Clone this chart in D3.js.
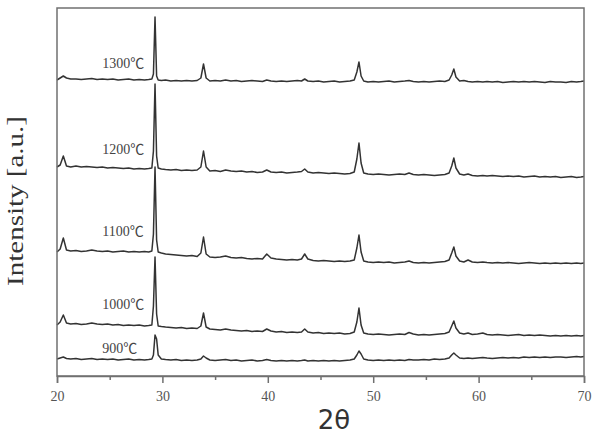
<!DOCTYPE html>
<html><head><meta charset="utf-8">
<script src="https://cdn.jsdelivr.net/npm/d3@7"></script>
<style>body{margin:0;background:#fff}svg{display:block}</style>
</head><body>
<script>
const twoTheta = [
 20, 20.3, 20.6, 20.9, 21.3, 21.8, 22.3, 22.8, 23.3, 23.8,
 24.3, 24.8, 25.3, 25.8, 26.3, 26.8, 27.3, 27.8, 28.3, 28.7,
 29.0, 29.15, 29.3, 29.45, 29.6, 29.9, 30.3, 30.8, 31.3, 31.8,
 32.3, 32.8, 33.3, 33.65, 33.9, 34.15, 34.5, 35.0, 35.5, 36.0,
 36.5, 37.0, 37.5, 38.0, 38.5, 39.0, 39.5, 39.9, 40.3, 40.8,
 41.3, 41.8, 42.3, 42.8, 43.2, 43.5, 43.8, 44.3, 44.8, 45.3,
 45.8, 46.3, 46.8, 47.3, 47.8, 48.2, 48.45, 48.65, 48.85, 49.1,
 49.5, 50.0, 50.5, 51.0, 51.5, 52.0, 52.5, 53.0, 53.4, 53.8,
 54.3, 54.8, 55.3, 55.8, 56.3, 56.8, 57.2, 57.45, 57.65, 57.85,
 58.2, 58.6, 59.0, 59.4, 59.9, 60.4, 60.8, 61.3, 61.8, 62.3,
 62.8, 63.3, 63.8, 64.3, 64.8, 65.3, 65.8, 66.3, 66.8, 67.3,
 67.8, 68.3, 68.8, 69.3, 69.7, 70.0
];
const i900 = [
 2, 3, 4, 2.5, 2, 2.5, 1.5, 2, 2.5, 1.5,
 2, 1.5, 2, 1, 1.5, 2, 1, 1.5, 1, 1.5,
 2, 6, 26, 22, 6, 2, 1.5, 1, 1.5, 0.5,
 1, 0.5, 1, 2, 5, 3, 1, 0.5, 1, 1.5,
 0.5, 1, 0, 0.5, 1, 0, 0.5, 1.5, 0.5, 0,
 0.5, 0, 0.5, 0, 0.5, 1, 0, 0.5, 0, 0.5,
 0, 0.5, 0, 0.5, 1, 2, 6, 10, 7, 2,
 1, 0.5, 1, 0.5, 1, 0.5, 1, 0.5, 1.5, 1,
 1, 1.5, 1, 2, 1.5, 2, 3, 6, 8, 6,
 3, 2.5, 3, 2.5, 3, 3.5, 3, 2.5, 3, 3.5,
 3, 3.5, 3, 4, 3.5, 4, 3.5, 4, 3.5, 4,
 4, 3.5, 4, 4.5, 4, 4.5
];
const i1000 = [
 11, 14, 21, 13, 12, 12.5, 11.5, 12, 13, 12,
 11.5, 12, 11, 11.5, 10.5, 11, 10.5, 11, 10, 10.5,
 11, 30, 79, 22, 10, 9.5, 9, 8.5, 8, 8.5,
 7.5, 8, 7.5, 10, 23, 9, 7, 6.5, 6, 7,
 6, 5.5, 5, 5.5, 4.5, 5, 4.5, 7, 5, 4,
 4.5, 3.5, 4, 3.5, 4, 7, 4, 3, 3.5, 2.5,
 3, 2.5, 3, 2, 2.5, 4, 14, 28, 11, 3,
 2, 1.5, 2, 1.5, 1, 1.5, 2, 1.5, 3.5, 2,
 1, 1.5, 1, 1.5, 2, 2.5, 4, 10, 15, 8,
 3, 2, 3, 1.5, 2, 3, 1.5, 1, 1.5, 1,
 0.5, 1, 1.5, 0.5, 1, 0.5, 1, 0.5, 0, 0.5,
 0, 0.5, 0, 0.5, 0, 0.5
];
const i1100 = [
 14, 17, 28, 16, 15, 15.5, 14.5, 15, 16, 15,
 14.5, 15, 14, 14.5, 15, 14, 14.5, 14, 14.5, 14,
 15, 32, 99, 26, 14, 13, 12, 11.5, 11, 10.5,
 10, 10.5, 9.5, 13, 29, 12, 9, 8.5, 9, 10,
 8.5, 8, 8.5, 7.5, 7, 7.5, 7, 12, 8, 7,
 6.5, 6, 6.5, 6, 7, 12, 7, 5.5, 5, 5.5,
 5, 4.5, 5, 4.5, 5, 6, 18, 31, 14, 5,
 4, 3.5, 4, 3.5, 4, 3, 3.5, 4, 5, 3.5,
 3, 3.5, 3, 3.5, 4, 4.5, 6, 13, 19, 10,
 5, 4, 6, 4, 3.5, 4, 3.5, 3, 3.5, 3,
 3.5, 3, 2.5, 3, 3.5, 3, 2.5, 3, 2.5, 3,
 2.5, 3, 2.5, 3, 2.5, 3
];
const i1200 = [
 14, 16, 25, 15, 14, 15, 14, 14.5, 14, 13.5,
 14, 13, 13.5, 13, 12.5, 13, 12, 12.5, 12, 12.5,
 13, 30, 97, 25, 13, 12, 11.5, 11, 11.5, 10.5,
 11, 10.5, 11, 14, 30, 14, 10, 10.5, 9.5, 11,
 10, 9.5, 10, 9, 9.5, 8.5, 9, 11, 9, 8.5,
 9, 8, 8.5, 9, 9.5, 12, 9, 8, 8.5, 8,
 7.5, 8, 7.5, 7, 7.5, 9, 22, 38, 18, 8,
 7, 6.5, 7, 6.5, 6, 6.5, 7, 6.5, 8, 6.5,
 6, 6.5, 6, 5.5, 6, 6.5, 8, 15, 23, 13,
 7, 6, 7, 5.5, 5, 5.5, 5, 5.5, 5, 4.5,
 5, 4.5, 5, 4, 4.5, 5, 4, 4.5, 4, 4.5,
 3.5, 4, 4.5, 3.5, 4, 4.5
];
const i1300 = [
 6, 8, 10, 8, 7, 7, 6.5, 7, 7.5, 6.5,
 7, 6.5, 7, 6, 6.5, 7, 6, 6.5, 6, 6.5,
 7, 12, 69, 10, 6, 5.5, 6, 5, 5.5, 5,
 5.5, 5, 5.5, 8, 22, 8, 5, 5.5, 5, 6,
 5, 5.5, 4.5, 5, 5.5, 5, 4.5, 6, 5, 4.5,
 5, 4.5, 5, 5.5, 5, 7, 5, 4.5, 5, 4,
 4.5, 5, 4, 4.5, 5, 6, 14, 24, 10, 5,
 4, 4.5, 4, 4.5, 5, 4, 4.5, 5, 5.5, 4.5,
 4, 4.5, 4, 4.5, 5, 4.5, 6, 11, 17, 9,
 5, 5.5, 4.5, 4, 4.5, 4, 4.5, 4, 4.5, 3.5,
 4, 4.5, 4, 4.5, 4, 4.5, 4, 3.5, 4.5, 4,
 4, 3.5, 4.5, 4, 4.5, 5
];
const seriesNames = ["900℃", "1000℃", "1100℃", "1200℃", "1300℃"];
const seriesValues = [i900, i1000, i1100, i1200, i1300];
const offsets = [15, 40, 110, 195, 290];
const labelLift = [8, 27, 30, 27, 18];
const labelAt = 24.3;
const xTicks = [20, 30, 40, 50, 60, 70];
const xMinorTicks = [25, 35, 45, 55, 65];

const W = 592, H = 437;
const m = {left: 57, right: 8, top: 8, bottom: 61};
const svg = d3.select("body").append("svg").attr("width", W).attr("height", H);
const x = d3.scaleLinear().domain([20, 70]).range([m.left, W - m.right]);
const y = d3.scaleLinear().domain([0, 368]).range([H - m.bottom, m.top]);
const serif = "'Liberation Serif','Times New Roman','Noto Sans CJK SC',serif";

const line = d3.line().x(d => x(d[0])).y(d => y(d[1]));
seriesValues.forEach((vals, k) => {
  const pts = twoTheta.map((t, i) => [t, vals[i] + offsets[k]]);
  svg.append("path").attr("d", line(pts)).attr("fill", "none")
    .attr("stroke", "#333").attr("stroke-width", 1.5).attr("stroke-linejoin", "round");
  svg.append("text").attr("x", x(labelAt)).attr("y", y(offsets[k] + labelLift[k]))
    .attr("font-family", serif).attr("font-size", 14).attr("fill", "#444")
    .text(seriesNames[k]);
});

// frame
svg.append("rect").attr("x", x(20)).attr("y", y(368)).attr("width", x(70) - x(20))
  .attr("height", y(0) - y(368)).attr("fill", "none").attr("stroke", "#707070").attr("stroke-width", 1.5);

const xAxis = d3.axisBottom(x).tickValues(xTicks).tickSize(7).tickFormat(d3.format("d"));
const gx = svg.append("g").attr("transform", `translate(0,${y(0)})`).call(xAxis);
gx.select(".domain").attr("stroke", "#707070").attr("stroke-width", 1.5);
gx.selectAll(".tick line").attr("stroke", "#707070").attr("stroke-width", 1.5);
gx.selectAll(".tick text").attr("font-family", serif).attr("font-size", 14)
  .attr("fill", "#555").attr("dy", "1.05em");
const gm = svg.append("g").attr("transform", `translate(0,${y(0)})`)
  .call(d3.axisBottom(x).tickValues(xMinorTicks).tickSize(4).tickFormat(""));
gm.select(".domain").remove();
gm.selectAll(".tick line").attr("stroke", "#707070").attr("stroke-width", 1.5);

svg.append("text").attr("transform", `translate(23,201) rotate(-90)`)
  .attr("text-anchor", "middle").attr("font-family", serif).attr("font-size", 23)
  .attr("textLength", 170).attr("lengthAdjust", "spacingAndGlyphs")
  .attr("fill", "#333").text("Intensity [a.u.]");
svg.append("text").attr("x", 334).attr("y", 429).attr("text-anchor", "middle")
  .attr("font-family", "'DejaVu Sans','Liberation Sans',sans-serif").attr("font-size", 26)
  .attr("fill", "#333").text("2θ");
</script>
</body></html>
